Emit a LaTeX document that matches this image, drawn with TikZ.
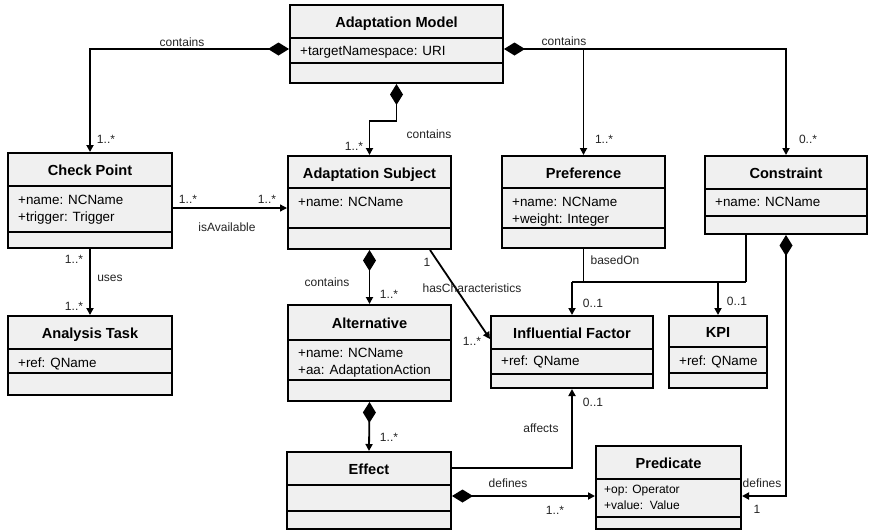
\documentclass[tikz,border=0pt]{standalone}
\usepackage{fontspec}
\setmainfont{Liberation Sans}
\usetikzlibrary{arrows.meta,fit,calc}
\definecolor{boxfill}{RGB}{240,240,240}
\definecolor{lblc}{RGB}{35,35,35}
\newcommand\umlclass[8]{%
  \node[box, fit={(#2,#3) (#4,#5)}] (#1) {};
  \draw[line width=2pt] (#2,#6) -- (#4,#6);
  \draw[line width=2pt] (#2,#7) -- (#4,#7);
  \node[ttl] (#1-t) at ({(#2+#4)/2},{(#3+#6)/2+6}) {#8};
}
\begin{document}
\begin{tikzpicture}[x=1pt,y=-1pt,
  box/.style={draw, line width=2pt, fill=boxfill, inner sep=0pt},
  ttl/.style={font=\fontsize{14.6}{17}\selectfont\bfseries, anchor=base, inner sep=0pt},
  att/.style={font=\fontsize{13.4}{17}\selectfont, anchor=base west, inner sep=0pt},
  atts/.style={font=\fontsize{12}{15}\selectfont, anchor=base west, inner sep=0pt},
  lbl/.style={font=\fontsize{12}{14}\selectfont, text=lblc, inner sep=0pt},
  conn/.style={line width=1.8pt},
  arr/.style={conn, -{Triangle[length=7pt,width=7pt]}},
  comp/.style={conn, {Diamond[length=21pt,width=13pt]}-{Triangle[length=7pt,width=7pt]}}]
\useasboundingbox (0,0) rectangle (873,531);

% classes
\umlclass{am}{290}{5}{503}{83}{37.5}{63}{Adaptation Model}
\node[att] (am-a1) at (300,55.5) {+targetNamespace: URI};

\umlclass{cp}{8}{153}{172}{248}{186}{232}{Check Point}
\node[att] (cp-a1) at (18,204) {+name: NCName};
\node[att] (cp-a2) at (18,221) {+trigger: Trigger};

\umlclass{at}{8}{316}{172}{395}{349}{373}{Analysis Task}
\node[att] (at-a1) at (18,367) {+ref: QName};

\umlclass{as}{288}{156}{451}{249}{188}{228}{Adaptation Subject}
\node[att] (as-a1) at (298,206) {+name: NCName};

\umlclass{alt}{288}{305}{451}{401}{340}{380}{Alternative}
\node[att] (alt-a1) at (298,357) {+name: NCName};
\node[att] (alt-a2) at (298,374) {+aa: AdaptationAction};

\umlclass{if}{491}{316}{653}{388}{349}{374}{Influential Factor}
\node[att] (if-a1) at (501,365) {+ref: QName};

\umlclass{pref}{502}{156}{665}{248}{188}{228}{Preference}
\node[att] (pref-a1) at (512,206) {+name: NCName};
\node[att] (pref-a2) at (512,223) {+weight: Integer};

\umlclass{con}{705}{156}{867}{234}{189}{216}{Constraint}
\node[att] (con-a1) at (715,206) {+name: NCName};

\umlclass{kpi}{669}{316}{767}{388}{347}{373}{KPI}
\node[att] (kpi-a1) at (679,365) {+ref: QName};

\umlclass{eff}{287}{452}{451}{529}{485}{511}{Effect}

\umlclass{pred}{596}{446}{741}{529}{479}{517}{Predicate}
\node[atts] (pred-a1) at (604,493) {+op: Operator};
\node[atts] (pred-a2) at (604,509) {+value:\ \ Value};

% connectors
\coordinate (amL) at ($(am.north west)+(0,45)$);
\coordinate (amR) at ($(am.north east)+(0,45)$);
\draw[comp] (amL) -| (cp.north);
\draw[comp] (am.south) -- ++(0,37) -| (as.north);
\draw[comp] (amR) -| (con.north);
\draw[arr] (amR -| pref.north) -- (pref.north);

\coordinate (cpR) at ($(cp.north east)+(0,56)$);
\draw[arr, line width=1.3pt] (cpR) -- (as.west |- cpR);
\draw[arr] (cp.south) -- (at.north);
\draw[comp] (as.south) -- (alt.north);
\draw[arr] ($(as.south east)+(-22,0)$) -- ($(if.north west)+(0,24)$);

\coordinate (j1) at ($(pref.south)+(0,33)$);
\coordinate (j2) at ($(con.south west)+(42,47)$);
\draw[conn] (pref.south) -- (j1);
\draw[conn] ($(con.south west)+(42,0)$) -- (j2);
\draw[conn] (j1 -| if.north) -- (j2);
\draw[arr] (j1 -| if.north) -- (if.north);
\draw[arr] (j1 -| kpi.north) -- (kpi.north);

\coordinate (predR) at ($(pred.north east)+(0,51)$);
\coordinate (predL) at ($(pred.north west)+(0,51)$);
\draw[comp] (con.south) |- (predR);
\draw[comp] ($(eff.north east)+(0,45)$) -- (predL);
\draw[arr] ($(eff.north east)+(0,17)$) -| (if.south);
\draw[comp] (alt.south) -- (eff.north);

% labels
\node[lbl] (l1) at (182,42) {contains};
\node[lbl] (l2) at (106,139) {1..*};
\node[lbl] (l3) at (429,134) {contains};
\node[lbl] (l4) at (354,146) {1..*};
\node[lbl] (l5) at (564,41) {contains};
\node[lbl] (l6) at (604,139) {1..*};
\node[lbl] (l7) at (808,139) {0..*};
\node[lbl] (l8) at (188,199) {1..*};
\node[lbl] (l9) at (267,199) {1..*};
\node[lbl] (l10) at (227,227) {isAvailable};
\node[lbl] (l11) at (74,259) {1..*};
\node[lbl] (l12) at (110,278) {uses};
\node[lbl] (l13) at (74,306) {1..*};
\node[lbl] (l14) at (327,282) {contains};
\node[lbl] (l15) at (389,294) {1..*};
\node[lbl] (l16) at (427,262) {1};
\node[lbl] (l17) at (472,288) {hasCharacteristics};
\node[lbl] (l18) at (472,341) {1..*};
\node[lbl] (l19) at (615,260) {basedOn};
\node[lbl] (l20) at (593,303) {0..1};
\node[lbl] (l21) at (737,301) {0..1};
\node[lbl] (l22) at (541,428) {affects};
\node[lbl] (l23) at (593,402) {0..1};
\node[lbl] (l24) at (389,437) {1..*};
\node[lbl] (l25) at (508,483) {defines};
\node[lbl] (l26) at (555,510) {1..*};
\node[lbl] (l27) at (762,483) {defines};
\node[lbl] (l28) at (757,509) {1};
\end{tikzpicture}
\end{document}
